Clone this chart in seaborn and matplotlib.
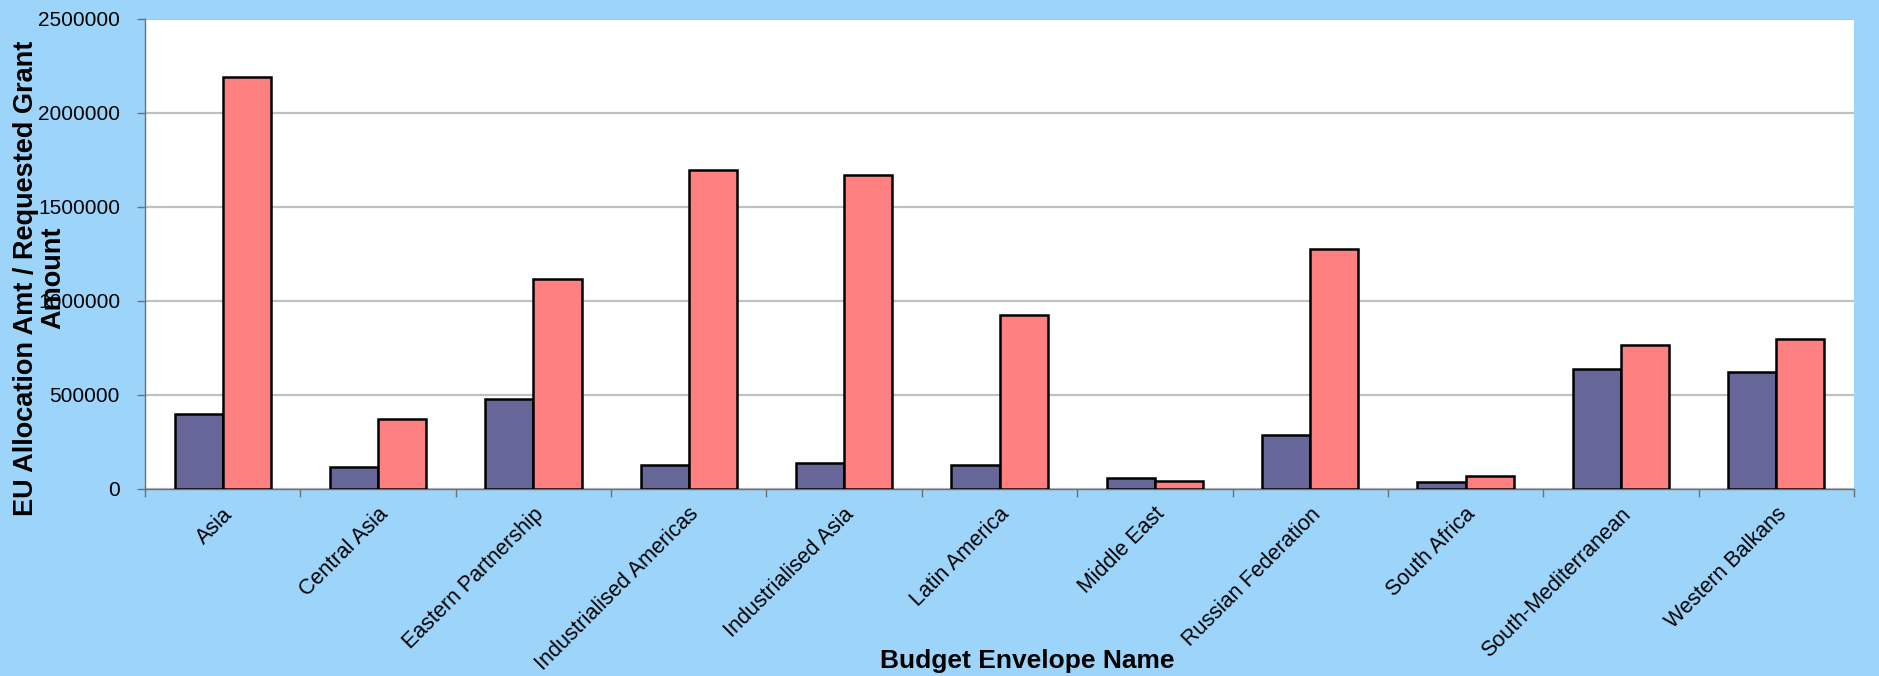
import numpy as np
import pandas as pd
import matplotlib
matplotlib.use('Agg')
import matplotlib.pyplot as plt
import matplotlib.transforms as mtransforms
import seaborn as sns

categories = ['Asia', 'Central Asia', 'Eastern Partnership', 'Industrialised Americas',
              'Industrialised Asia', 'Latin America', 'Middle East', 'Russian Federation',
              'South Africa', 'South-Mediterranean', 'Western Balkans']
eu_allocation = [398000, 115000, 478000, 128000, 140000, 128000, 57000, 287000, 38000, 638000, 625000]
requested_grant = [2190000, 370000, 1118000, 1697000, 1672000, 925000, 45000, 1276000, 70000, 765000, 797000]
series_names = ['EU Allocation Amt', 'Requested Grant Amount']
y_ticks = [0, 500000, 1000000, 1500000, 2000000, 2500000]

bg = '#9DD4FA'
colors = ['#666699', '#FF8080']

df = pd.DataFrame({
    'Budget Envelope Name': categories * 2,
    'value': eu_allocation + requested_grant,
    'series': [series_names[0]] * len(categories) + [series_names[1]] * len(categories),
})

sns.set_style('white')
plt.rcParams['font.family'] = ['Liberation Sans', 'DejaVu Sans']
plt.rcParams['text.color'] = 'black'
plt.rcParams['xtick.color'] = 'black'
plt.rcParams['ytick.color'] = 'black'
plt.rcParams['axes.labelcolor'] = 'black'

fig = plt.figure(figsize=(18.79, 6.76), dpi=100, facecolor=bg)
ax = fig.add_axes([145 / 1879, (676 - 489) / 676, 1709 / 1879, 470 / 676])
ax.set_facecolor('white')

sns.barplot(data=df, x='Budget Envelope Name', y='value', hue='series',
            palette=colors, width=0.62, edgecolor='black', linewidth=1.8,
            saturation=1, legend=False, ax=ax, zorder=3)

ax.set_xlim(-0.5, len(categories) - 0.5)
ax.set_ylim(0, 2500000)
ax.set_yticks(y_ticks)
ax.set_yticklabels([str(v) for v in y_ticks], fontsize=15)
ax.yaxis.grid(True, color='#C0C0C0', linewidth=1.6, zorder=0)
ax.set_axisbelow(True)

for side in ['top', 'right']:
    ax.spines[side].set_visible(False)
for side in ['left', 'bottom']:
    ax.spines[side].set_color('#707070')
    ax.spines[side].set_linewidth(1.0)

ax.tick_params(axis='y', left=True, length=6, width=1, color='#707070', pad=12)
ax.set_xticks(np.arange(-0.5, len(categories)), minor=True)
ax.tick_params(axis='x', which='minor', bottom=True, length=6, width=1, color='#707070')
ax.tick_params(axis='x', which='major', bottom=False, length=0, pad=16)
ax.set_xticks(np.arange(len(categories)))
ax.set_xticklabels(categories, rotation=45, ha='right', va='center',
                   rotation_mode='anchor', fontsize=15.5)

# nudge the slanted labels a little to the right, like the original
shift = mtransforms.ScaledTranslation(0.07, 0, fig.dpi_scale_trans)
for lbl in ax.get_xticklabels():
    lbl.set_transform(lbl.get_transform() + shift)

ax.set_xlabel('Budget Envelope Name', fontsize=19, fontweight='bold')
ax.xaxis.set_label_coords(0.516, -0.34)
ax.set_ylabel('')
fig.text(40 / 1879, 1 - 278 / 676, 'EU Allocation Amt / Requested Grant\nAmount',
         rotation=90, ha='center', va='center', multialignment='center',
         fontsize=19.5, fontweight='bold', linespacing=1.05)

fig.savefig('out.png', dpi=100, facecolor=bg)
